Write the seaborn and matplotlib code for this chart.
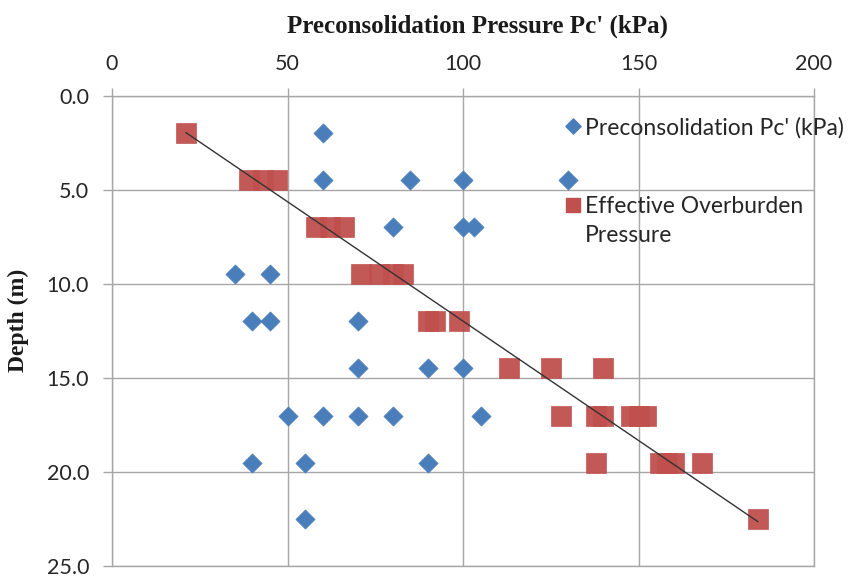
import numpy as np
import pandas as pd
import matplotlib
matplotlib.use("Agg")
import matplotlib.pyplot as plt
import seaborn as sns

# Preconsolidation pressure Pc' (kPa) and depth (m)
pc_pressure = [60, 60, 85, 100, 130, 80, 100, 103, 35, 45, 40, 45, 70,
               70, 90, 100, 50, 60, 70, 80, 105, 40, 55, 90, 55]
pc_depth = [2.0, 4.5, 4.5, 4.5, 4.5, 7.0, 7.0, 7.0, 9.5, 9.5, 12.0, 12.0, 12.0,
            14.5, 14.5, 14.5, 17.0, 17.0, 17.0, 17.0, 17.0, 19.5, 19.5, 19.5, 22.5]

# Effective overburden pressure (kPa) and depth (m)
eo_pressure = [21, 39, 43, 47, 58, 62, 66, 71, 76, 80, 83, 90, 92, 99,
               113, 125, 140, 128, 138, 140, 148, 150, 152, 138, 156, 158, 160, 168, 184]
eo_depth = [2.0, 4.5, 4.5, 4.5, 7.0, 7.0, 7.0, 9.5, 9.5, 9.5, 9.5, 12.0, 12.0, 12.0,
            14.5, 14.5, 14.5, 17.0, 17.0, 17.0, 17.0, 17.0, 17.0, 19.5, 19.5, 19.5, 19.5, 19.5, 22.5]

x_ticks = [0, 50, 100, 150, 200]
y_ticks = [0.0, 5.0, 10.0, 15.0, 20.0, 25.0]

label_pc = "Preconsolidation Pc' (kPa)"
label_eo_lines = ["Effective Overburden", "Pressure"]

BLUE = "#4A7EBB"
RED = "#C0504D"
GRID = "#A6A6A6"
TXT = "#262626"

sns.set_theme(style="white")
plt.rcParams['font.family'] = ['Lato', 'DejaVu Sans']
serif = ["Liberation Serif", "DejaVu Serif"]

fig = plt.figure(figsize=(8.5, 5.81), dpi=100)
ax = fig.add_axes([112/850, 1-566/581, (814-112)/850, (566-95.7)/581])

df_pc = pd.DataFrame({"p": pc_pressure, "d": pc_depth})
df_eo = pd.DataFrame({"p": eo_pressure, "d": eo_depth})

sns.scatterplot(data=df_eo, x="p", y="d", marker="s", s=200, color=RED,
                edgecolor=RED, linewidth=0.5, alpha=0.95, ax=ax, zorder=3, legend=False)
sns.scatterplot(data=df_pc, x="p", y="d", marker="D", s=95, color=BLUE,
                edgecolor=BLUE, linewidth=0.5, ax=ax, zorder=4, legend=False)

# linear trendline through the effective overburden points
a, b = np.polyfit(eo_depth, eo_pressure, 1)
xs = np.array([min(eo_pressure), max(eo_pressure)])
trend = pd.DataFrame({"p": xs, "d": (xs - b) / a})
sns.lineplot(data=trend, x="p", y="d", color="#333333", linewidth=1.0, ax=ax, zorder=5)

ax.set_xlim(0, 200)
ax.set_ylim(25, 0)
ax.set_xticks(x_ticks)
ax.set_yticks(y_ticks)
ax.set_yticklabels([f"{v:.1f}" for v in y_ticks])
ax.xaxis.tick_top()
ax.xaxis.set_label_position("top")
ax.tick_params(axis="both", which="both", width=1, color=GRID,
               direction="out", labelsize=15.5, labelcolor=TXT)
ax.tick_params(axis="x", bottom=False, top=True, length=5.5, pad=10)
ax.tick_params(axis="y", left=True, right=False, length=6.5, pad=10)
ax.grid(True, color=GRID, linewidth=1.0)
for sp in ax.spines.values():
    sp.set_color(GRID)
    sp.set_linewidth(1.0)

ax.set_xlabel("Preconsolidation Pressure Pc' (kPa)", fontsize=18, fontweight="bold",
              family=serif, color="#1a1a1a")
ax.xaxis.set_label_coords(0.521, 1.135)
ax.set_ylabel("Depth (m)", fontsize=17, fontweight="bold",
              family=serif, color="#1a1a1a")
ax.yaxis.set_label_coords(-0.118, 0.523)

# legend (drawn manually to match the original layout)
def ax_xy(px, py):
    return (px - 112) / 702, (566 - py) / 470.3

lx, ly1 = ax_xy(572.5, 126)
_, ly2 = ax_xy(572.5, 205)
_, ly3 = ax_xy(572.5, 234)
tx, _ = ax_xy(585, 0)
ax.scatter([lx], [ly1], marker="D", s=60, color=BLUE, transform=ax.transAxes,
           clip_on=False, zorder=6)
ax.scatter([lx], [ly2], marker="s", s=110, color=RED, transform=ax.transAxes,
           clip_on=False, zorder=6)
ax.text(tx, ly1, label_pc, transform=ax.transAxes, fontsize=16.5, color=TXT,
        va="center_baseline", ha="left", clip_on=False)
ax.text(tx, ly2, label_eo_lines[0], transform=ax.transAxes, fontsize=16.5, color=TXT,
        va="center_baseline", ha="left")
ax.text(tx, ly3, label_eo_lines[1], transform=ax.transAxes, fontsize=16.5, color=TXT,
        va="center_baseline", ha="left")

fig.savefig("out.png", dpi=100)
